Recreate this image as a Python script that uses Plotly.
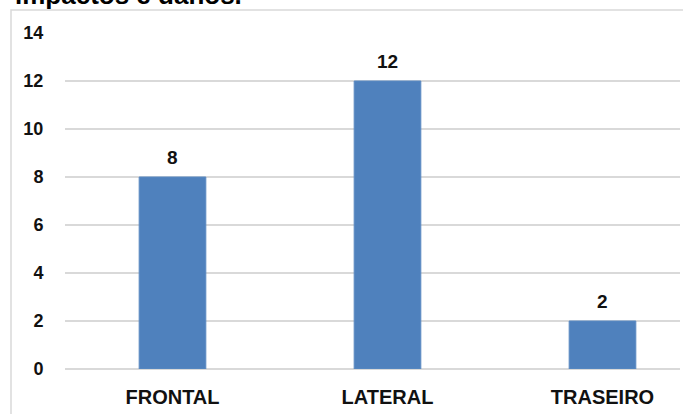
import plotly.graph_objects as go

categories = ["FRONTAL", "LATERAL", "TRASEIRO"]
values = [8, 12, 2]
y_ticks = [0, 2, 4, 6, 8, 10, 12, 14]
title_text = "impactos e danos."

W, H = 683, 414
ML, MR, MT, MB = 65, 3, 33, 45
plot_w = W - ML - MR
plot_h = H - MT - MB
FONT = "Liberation Sans, Arial, sans-serif"
INK = "#111111"


def px_x(p):
    return (p - ML) / plot_w


def px_y(p):
    return (H - MB - p) / plot_h


fig = go.Figure()
fig.add_trace(go.Bar(
    x=list(range(len(categories))),
    y=values,
    width=0.31,
    marker=dict(color="#4F81BD", line=dict(color="#5B8AC2", width=1)),
    hoverinfo="skip",
))

# value labels above each bar
for i, v in enumerate(values):
    fig.add_annotation(x=i, y=v, text=f"<b>{v}</b>", showarrow=False,
                       yanchor="middle", yshift=20,
                       font=dict(family=FONT, size=19, color=INK))

# frame around the chart area
fig.add_shape(type="rect", xref="paper", yref="paper",
              x0=px_x(11), x1=px_x(700), y0=px_y(430), y1=px_y(10),
              line=dict(color="#D9D9D9", width=1.5), fillcolor="rgba(0,0,0,0)", layer="below")

fig.add_annotation(text=f"<b>{title_text}</b>", xref="paper", yref="paper",
                   x=px_x(13), y=px_y(-5), xanchor="left", yanchor="middle",
                   showarrow=False,
                   font=dict(family=FONT, size=26, color="#000000"))

fig.update_layout(
    width=W, height=H,
    margin=dict(l=ML, r=MR, t=MT, b=MB),
    paper_bgcolor="white", plot_bgcolor="white",
    showlegend=False,
    font=dict(family=FONT),
)
fig.update_xaxes(
    range=[-0.5, -0.5 + plot_w / 215.0],
    tickmode="array", tickvals=list(range(len(categories))),
    ticktext=[f"<b>{c}</b>" for c in categories],
    tickfont=dict(size=20, color=INK),
    showgrid=False, zeroline=False, showline=False,
    ticks="outside", ticklen=10, tickcolor="rgba(0,0,0,0)",
)
fig.update_yaxes(
    range=[0, 14],
    tickmode="array", tickvals=y_ticks,
    ticktext=[f"<b>{t}</b>" for t in y_ticks],
    tickfont=dict(size=18, color=INK),
    showgrid=True, gridcolor="#D9D9D9", gridwidth=1.5,
    zeroline=True, zerolinecolor="#D9D9D9", zerolinewidth=1.5,
    showline=False, ticks="outside", ticklen=17, tickcolor="rgba(0,0,0,0)",
)

fig.write_html("out.html")
